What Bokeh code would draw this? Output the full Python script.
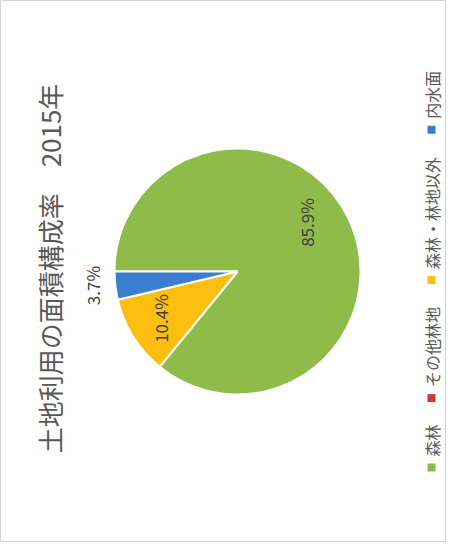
import math
from bokeh.plotting import figure
from bokeh.models import ColumnDataSource, Range1d
from bokeh.core.properties import value
from bokeh.embed import file_html
from bokeh.resources import INLINE

# ---- data ----
title_text = "土地利用の面積構成率　2015年"
categories = ["森林", "その他林地", "森林・林地以外", "内水面"]
shares = [85.9, 0.0, 10.4, 3.7]
labels = ["85.9%", "", "10.4%", "3.7%"]
palette = ["#8fbb4a", "#d0363a", "#fdbf0f", "#3b7dd0"]

W, H = 446, 542
FONT = "Noto Sans CJK JP"

p = figure(width=W, height=H, output_backend="svg", toolbar_location=None,
           x_range=Range1d(0, W), y_range=Range1d(0, H), min_border=0)
p.axis.visible = False
p.grid.visible = False
p.outline_line_color = "#d4d4d4"
p.background_fill_color = "white"

def to_data(xi, yi):
    return xi - 1, H - yi

# pie (chart rotated 90 deg counter-clockwise: 12 o'clock -> left)
cx, cy = to_data(238, 271)
radius = 123
total = sum(shares)
theta0 = math.pi
starts, ends, cols = [], [], []
cum = 0.0
for v, col in zip(shares, palette):
    a_end = theta0 - cum / total * 2 * math.pi
    cum += v
    a_start = theta0 - cum / total * 2 * math.pi
    if v > 0:
        starts.append(a_start)
        ends.append(a_end)
        cols.append(col)

src = ColumnDataSource(dict(start=starts, end=ends, color=cols))
p.wedge(x=cx, y=cy, radius=radius, radius_units="screen", start_angle="start",
        end_angle="end", fill_color="color", line_color="white", line_width=2,
        source=src)

# data labels (rotated)
label_pos = {0: (307, 222), 2: (161, 318), 3: (93, 285)}
lx, ly, lt = [], [], []
for i, (xi, yi) in label_pos.items():
    dx, dy = to_data(xi, yi)
    lx.append(dx); ly.append(dy); lt.append(labels[i])
p.text(x=lx, y=ly, text=lt, angle=math.pi / 2, text_align="center",
       text_baseline="middle", text_font=value(FONT), text_font_size="17px",
       text_color="#404040")

# title (rotated)
tx, ty = to_data(50, 268)
p.text(x=[tx], y=[ty], text=[title_text], angle=math.pi / 2, text_align="center",
       text_baseline="middle", text_font=value(FONT), text_font_size="26px",
       text_color="#595959")

# legend (rotated, reading bottom to top)
mx, my, txs, tys = [], [], [], []
y_marker = 467
char = 16.2
for c in categories:
    dx, dy = to_data(432, y_marker)
    mx.append(dx); my.append(dy)
    sx, sy = to_data(432, y_marker - 11)
    txs.append(sx); tys.append(sy)
    y_marker = y_marker - 11 - len(c) * char - 22 - 4
p.scatter(x=mx, y=my, marker="square", size=8, fill_color=palette, line_color=None)
p.text(x=txs, y=tys, text=categories, angle=math.pi / 2, text_align="left",
       text_baseline="middle", text_font=value(FONT), text_font_size="16px",
       text_color="#595959")

open("out.html", "w").write(file_html(p, INLINE))
